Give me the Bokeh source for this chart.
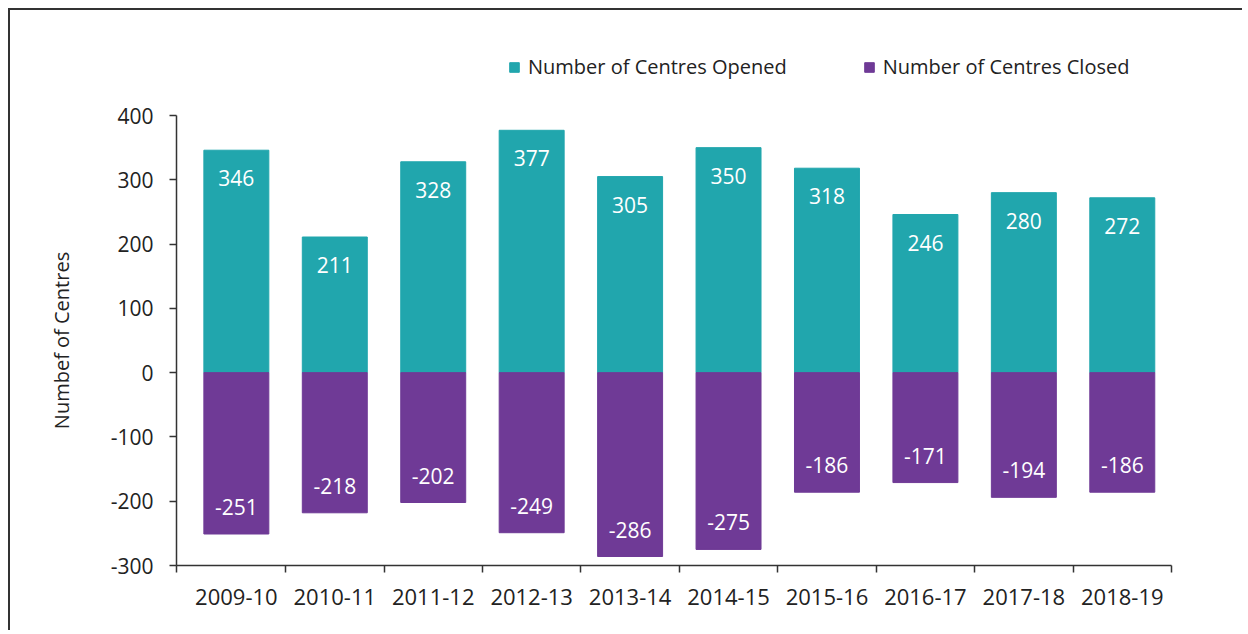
from bokeh.plotting import figure
from bokeh.layouts import column
from bokeh.models import ColumnDataSource, Range1d, FixedTicker, Legend, LegendItem
from bokeh.core.properties import value
from bokeh.embed import file_html
from bokeh.resources import INLINE

years = ["2009-10", "2010-11", "2011-12", "2012-13", "2013-14",
         "2014-15", "2015-16", "2016-17", "2017-18", "2018-19"]
opened = [346, 211, 328, 377, 305, 350, 318, 246, 280, 272]
closed = [-251, -218, -202, -249, -286, -275, -186, -171, -194, -186]
y_ticks = [-300, -200, -100, 0, 100, 200, 300, 400]
series_names = ["Number of Centres Opened", "Number of Centres Closed"]

TEAL = "#21A6AD"
PURPLE = "#6F3A96"
TXT = "#222222"
AXC = "#333333"
FONT = "Open Sans"
X_START = -0.108  # small gap between the y axis and the first category

xs = [i + 0.5 for i in range(len(years))]
src = ColumnDataSource(dict(
    x=xs, opened=opened, closed=closed,
    olab=[str(v) for v in opened], clab=[str(v) for v in closed],
))

# ---- main chart ----
p = figure(width=1232, height=530, output_backend="svg", toolbar_location=None,
           x_range=Range1d(X_START, len(years)), y_range=Range1d(min(y_ticks), max(y_ticks)),
           min_border_left=166, min_border_right=71, min_border_top=15, min_border_bottom=65)
p.outline_line_color = None
p.grid.visible = False

p.vbar(x="x", top="opened", bottom=0, width=0.66, color=TEAL, source=src)
p.vbar(x="x", top=0, bottom="closed", width=0.66, color=PURPLE, source=src)

p.text(x="x", y="opened", text="olab", source=src, text_align="center", text_baseline="middle",
       y_offset=28, text_color="white", text_font=value(FONT), text_font_size="21px")
p.text(x="x", y="closed", text="clab", source=src, text_align="center", text_baseline="middle",
       y_offset=-27, text_color="white", text_font=value(FONT), text_font_size="21px")

# x axis: labels at centres, ticks at category boundaries
xa = p.xaxis[0]
xa.ticker = FixedTicker(ticks=xs, minor_ticks=[X_START] + list(range(1, len(years) + 1)))
xa.major_label_overrides = {x: y for x, y in zip(xs, years)}
xa.major_tick_out = 0
xa.major_tick_in = 0
xa.minor_tick_out = 7
xa.minor_tick_in = 0
xa.minor_tick_line_color = AXC
xa.minor_tick_line_width = 1.5
xa.axis_line_color = AXC
xa.axis_line_width = 1.5
xa.major_label_text_font = FONT
xa.major_label_text_font_size = "22px"
xa.major_label_text_color = TXT
xa.major_label_standoff = 16

ya = p.yaxis[0]
ya.ticker = FixedTicker(ticks=y_ticks)
ya.major_label_overrides = {v: str(v) for v in y_ticks}
ya.major_tick_out = 7
ya.major_tick_in = 0
ya.minor_tick_out = 0
ya.minor_tick_in = 0
ya.major_tick_line_color = AXC
ya.major_tick_line_width = 1.5
ya.axis_line_color = AXC
ya.axis_line_width = 1.5
ya.major_label_text_font = FONT
ya.major_label_text_font_size = "21px"
ya.major_label_text_color = TXT
ya.major_label_standoff = 16
ya.axis_label = "Numbef of Centres"
ya.axis_label_text_font = FONT
ya.axis_label_text_font_size = "20px"
ya.axis_label_text_font_style = "normal"
ya.axis_label_text_color = TXT
ya.axis_label_standoff = 33

# ---- legend strip above the chart (frame is aligned with the chart's frame) ----
lg = figure(width=1232, height=90, output_backend="svg", toolbar_location=None,
            x_range=Range1d(0, 1), y_range=Range1d(0, 1),
            x_axis_location=None, y_axis_location=None,
            min_border_left=166, min_border_right=71, min_border_top=0, min_border_bottom=0)
lg.outline_line_color = None
lg.grid.visible = False
k1 = lg.vbar(x="x", top="opened", width=0.66, color=TEAL, source=src, visible=False)
k2 = lg.vbar(x="x", bottom="closed", width=0.66, color=PURPLE, source=src, visible=False)
legend = Legend(items=[LegendItem(label=series_names[0], renderers=[k1]),
                       LegendItem(label=series_names[1], renderers=[k2])],
                orientation="horizontal", location=(332, 20),
                glyph_width=12, glyph_height=12, label_standoff=8, spacing=76,
                label_text_font=FONT, label_text_font_size="20px", label_text_color=TXT,
                padding=0, margin=0, border_line_color=None, background_fill_alpha=0)
lg.add_layout(legend, "center")

layout = column(lg, p, spacing=0,
                styles={"margin-left": "8px", "margin-top": "8px",
                        "border-top": "2px solid #333333", "border-left": "2px solid #333333"})

open("out.html", "w").write(file_html(layout, INLINE))
